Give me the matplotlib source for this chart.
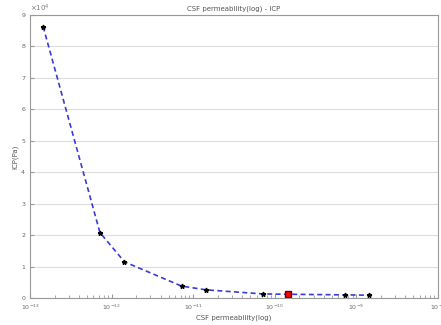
import matplotlib
matplotlib.use("Agg")
import matplotlib.pyplot as plt
import numpy as np

# CSF permeability (log axis) vs ICP
permeability = [1.45e-13, 7.2e-13, 1.44e-12, 7.2e-12, 1.44e-11,
                7.2e-11, 1.44e-10, 7.2e-10, 1.44e-9]
icp = [86300, 20800, 11500, 3800, 2600, 1300, 1200, 1000, 900]
highlight = 6  # index of the red marker

fig = plt.figure(figsize=(4.41, 3.25), dpi=100)
ax = fig.add_axes([0.068, 0.083, 0.925, 0.871])

ax.plot(permeability, icp, '--', color='#3a3ad8', lw=1.2, dashes=(3, 2))
ax.plot(permeability, icp, '*', color='black', ms=3.5)
ax.plot(permeability[highlight], icp[highlight], 's', color='red',
        mec='#600000', ms=5)

ax.set_xscale('log')
ax.set_xlim(1e-13, 1e-8)
ax.set_ylim(0, 90000)
ax.set_yticks(np.arange(0, 90001, 10000))
ax.set_yticklabels([str(i) for i in range(10)])
ax.text(0, 1.005, r'$\times 10^4$', transform=ax.transAxes, fontsize=5,
        color='#777777', va='bottom')

ax.grid(axis='y', color='#dddddd', lw=0.8)
for s in ax.spines.values():
    s.set_color('#999999')
ax.tick_params(colors='#999999', labelcolor='#666666', labelsize=4.5,
               direction='in', length=3)
ax.tick_params(which='minor', colors='#999999', direction='in', length=2)

ax.set_title('CSF permeability(log) - ICP', fontsize=5, color='#555555', pad=3)
ax.set_xlabel('CSF permeability(log)', fontsize=5, color='#555555', labelpad=2)
ax.set_ylabel('ICP(Pa)', fontsize=5, color='#555555', labelpad=2)

fig.savefig('out.png', dpi=100)
